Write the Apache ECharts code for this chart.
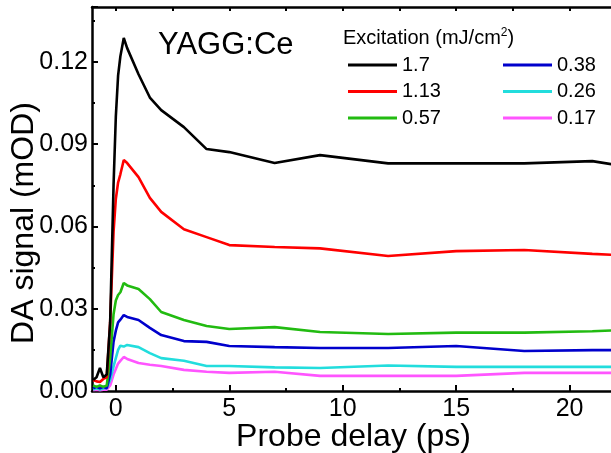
<!DOCTYPE html>
<html>
<head>
<meta charset="utf-8">
<script src="https://cdn.jsdelivr.net/npm/echarts@6/dist/echarts.min.js"></script>
<style>html,body{margin:0;padding:0;background:#fff;}#chart{width:611px;height:453px;}</style>
</head>
<body>
<div id="chart"></div>
<script>
// Probe delay (ps)
const delays = [-1, -0.85, -0.7, -0.55, -0.4, -0.25, -0.1, 0, 0.1, 0.2, 0.35, 0.5, 1, 1.5, 2, 3, 4, 5, 7, 9, 12, 15, 18, 21, 22];
// DA signal (mOD) per excitation fluence
const s1_7  = [0.004, 0.005, 0.0084, 0.005, 0.006, 0.025, 0.075, 0.100, 0.115, 0.122, 0.1287, 0.125, 0.1155, 0.107, 0.1024, 0.0962, 0.0882, 0.0871, 0.0831, 0.0860, 0.0830, 0.0830, 0.0830, 0.0838, 0.0825];
const s1_13 = [0.004, 0.0035, 0.0033, 0.0044, 0.005, 0.025, 0.058, 0.070, 0.076, 0.079, 0.0842, 0.0831, 0.0780, 0.0704, 0.0653, 0.0590, 0.0561, 0.0532, 0.0525, 0.0520, 0.0492, 0.0510, 0.0514, 0.0500, 0.0496];
const s0_57 = [0.002, 0.0015, 0.002, 0.0015, 0.002, 0.012, 0.028, 0.033, 0.035, 0.036, 0.0394, 0.0385, 0.0372, 0.0335, 0.0288, 0.0259, 0.0237, 0.0226, 0.0233, 0.0215, 0.0208, 0.0213, 0.0213, 0.0218, 0.0221];
const s0_38 = [0.001, 0.0015, 0.001, 0.0015, 0.001, 0.006, 0.018, 0.022, 0.025, 0.026, 0.0277, 0.0270, 0.0259, 0.0230, 0.0204, 0.0182, 0.0179, 0.0164, 0.0160, 0.0157, 0.0157, 0.0164, 0.0146, 0.0149, 0.0149];
const s0_26 = [0.0005, 0.001, 0.0005, 0.001, 0.001, 0.004, 0.009, 0.012, 0.015, 0.0165, 0.0162, 0.0168, 0.0160, 0.0138, 0.0120, 0.0110, 0.0091, 0.0091, 0.0086, 0.0084, 0.0093, 0.0088, 0.0088, 0.0088, 0.0088];
const s0_17 = [0.0003, 0.0005, 0.0003, 0.0005, 0.0005, 0.002, 0.006, 0.008, 0.010, 0.011, 0.0124, 0.0117, 0.0102, 0.0096, 0.0091, 0.0077, 0.0070, 0.0066, 0.0070, 0.0055, 0.0055, 0.0055, 0.0066, 0.0066, 0.0066];

const seriesNames = ['1.7', '1.13', '0.57', '0.38', '0.26', '0.17'];
const seriesValues = [s1_7, s1_13, s0_57, s0_38, s0_26, s0_17];
const seriesColors = ['#000000', '#ff0000', '#22bb11', '#0000cc', '#22dddd', '#ff55ff'];

const xMajorTicks = [0, 5, 10, 15, 20];
const xMinorTicks = [2.5, 7.5, 12.5, 17.5];
const xTopTicks = [0, 2.5, 5, 7.5, 10, 12.5, 15, 17.5, 20];

const FONT = 'Liberation Sans, Arial, sans-serif';
const chart = echarts.init(document.getElementById('chart'));

const series = seriesNames.map((name, i) => ({
  name: name,
  type: 'line',
  xAxisIndex: 0,
  yAxisIndex: 0,
  showSymbol: false,
  symbol: 'none',
  smooth: false,
  lineStyle: { color: seriesColors[i], width: 2.6 },
  itemStyle: { color: seriesColors[i] },
  data: delays.map((d, j) => [d, seriesValues[i][j]]),
  z: 10 - i
}));

const legendCommon = {
  orient: 'vertical',
  icon: 'rect',
  itemWidth: 49,
  itemHeight: 3,
  itemGap: 6.5,
  textStyle: { fontFamily: FONT, fontSize: 20, color: '#000', lineHeight: 20 },
  top: 50
};

chart.setOption({
  animation: false,
  backgroundColor: '#fff',
  title: {
    text: 'YAGG:Ce',
    left: 153,
    top: 25,
    textStyle: { fontFamily: FONT, fontSize: 31, fontWeight: 'normal', color: '#000' }
  },
  legend: [
    Object.assign({ left: 343, data: seriesNames.slice(0, 3) }, legendCommon),
    Object.assign({ left: 498, data: seriesNames.slice(3, 6) }, legendCommon)
  ],
  graphic: [{
    type: 'text',
    left: 343,
    top: 27,
    style: {
      text: '{a|Excitation (mJ/cm}{s|2}{a|)}',
      rich: {
        a: { fontFamily: FONT, fontSize: 20, fill: '#000', lineHeight: 22 },
        s: { fontFamily: FONT, fontSize: 12, fill: '#000', verticalAlign: 'top', lineHeight: 22 }
      }
    }
  }],
  grid: { left: 92, top: 7, right: -4, bottom: 62, containLabel: false, outerBoundsMode: 'none' },
  xAxis: [{
    type: 'value',
    position: 'bottom',
    min: -1.05,
    max: 22,
    name: 'Probe delay (ps)',
    nameLocation: 'middle',
    nameGap: 30,
    nameMoveOverlap: false,
    nameTextStyle: { fontFamily: FONT, fontSize: 32, color: '#000' },
    axisLine: { show: true, onZero: false, lineStyle: { color: '#000', width: 2.5 } },
    axisTick: { show: true, inside: true, length: 6, customValues: xMajorTicks, lineStyle: { color: '#000', width: 2 } },
    axisLabel: { show: true, customValues: xMajorTicks, fontFamily: FONT, fontSize: 25, color: '#000', margin: 6 },
    splitLine: { show: false }
  }, {
    type: 'value',
    position: 'bottom',
    min: -1.05,
    max: 22,
    axisLine: { show: false, onZero: false },
    axisTick: { show: true, inside: true, length: 3, customValues: xMinorTicks, lineStyle: { color: '#000', width: 2 } },
    axisLabel: { show: false },
    splitLine: { show: false }
  }, {
    type: 'value',
    position: 'top',
    min: -1.05,
    max: 22,
    axisLine: { show: true, onZero: false, lineStyle: { color: '#000', width: 2.5 } },
    axisTick: { show: true, inside: true, length: 4, customValues: xTopTicks, lineStyle: { color: '#000', width: 2 } },
    axisLabel: { show: false },
    splitLine: { show: false }
  }],
  yAxis: [{
    type: 'value',
    min: 0,
    max: 0.14,
    interval: 0.03,
    name: 'DA signal (mOD)',
    nameLocation: 'middle',
    nameGap: 52,
    nameMoveOverlap: false,
    nameTextStyle: { fontFamily: FONT, fontSize: 32, color: '#000', padding: [0, 48, 0, 0] },
    axisLine: { show: true, onZero: false, lineStyle: { color: '#000', width: 2.5 } },
    axisTick: { show: true, inside: true, length: 6, lineStyle: { color: '#000', width: 2 } },
    minorTick: { show: true, splitNumber: 2, length: 3, lineStyle: { color: '#000', width: 2 } },
    axisLabel: { fontFamily: FONT, fontSize: 25, color: '#000', margin: 4, showMaxLabel: false, formatter: v => v.toFixed(2) },
    splitLine: { show: false },
    minorSplitLine: { show: false }
  }],
  series: series
});
</script>
</body>
</html>
